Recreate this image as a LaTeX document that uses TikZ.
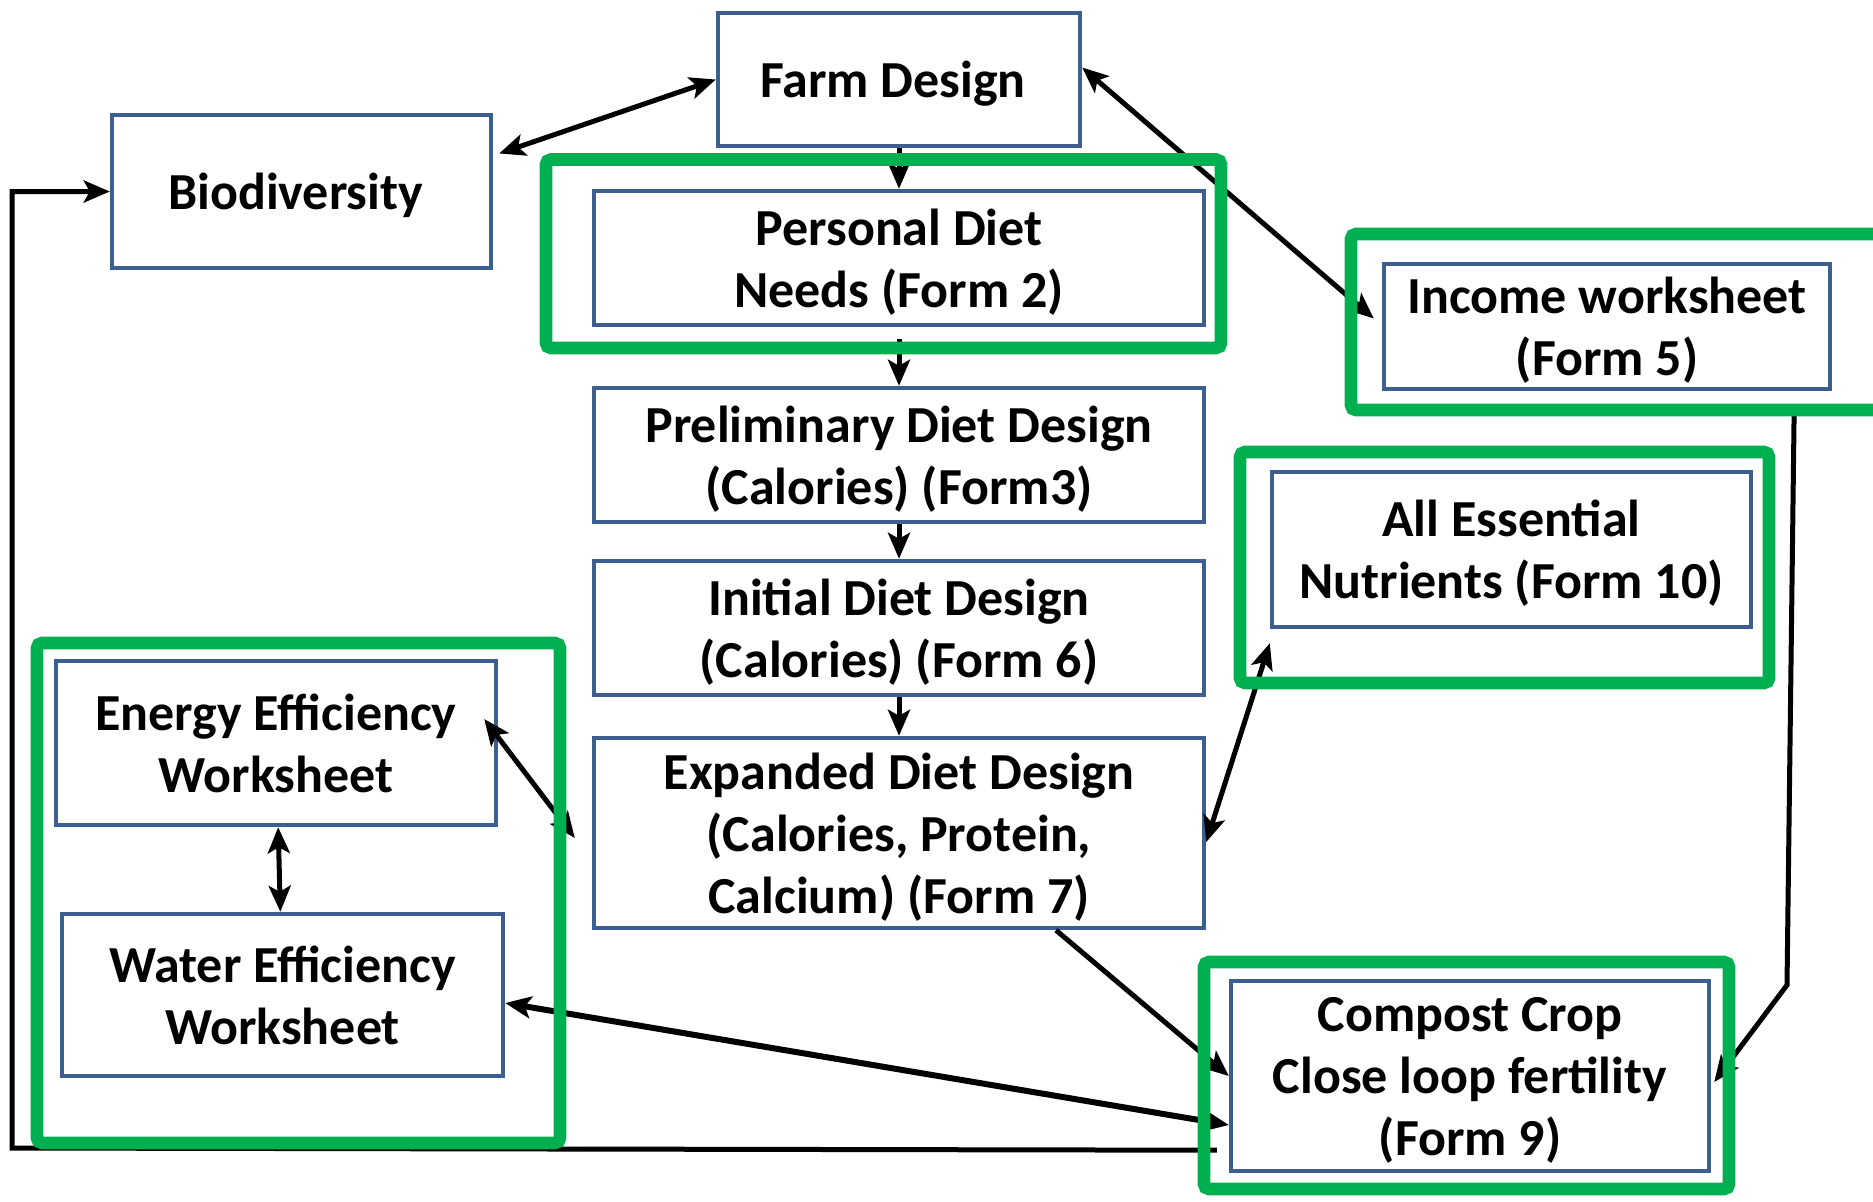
\documentclass[tikz,border=0pt]{standalone}
\usepackage{fontspec}
\setmainfont{Carlito}
\usetikzlibrary{arrows.meta}
\definecolor{boxblue}{HTML}{3C5F8F}
\definecolor{framegreen}{HTML}{00B050}

\begin{document}
\begin{tikzpicture}[x = 0.5pt, y = -0.5pt,
    every node/.style = { draw = boxblue, line width = 2.2pt, align = center, inner sep = 0pt,
                          font = \fontsize{26}{31}\selectfont\bfseries, text depth = 0pt },
    frame/.style = { draw = framegreen, line width = 6.3pt, rounded corners = 2.5pt },
    link/.style = { line width = 2.5pt },
    >={Stealth[length = 13pt, width = 11pt, inset = 3pt]}]
      \useasboundingbox (0,0) rectangle (1873,1201);
      \node (farm) at (899,79.5) [minimum width = 181pt, minimum height = 66.5pt] { Farm Design };
      \node (bio) at (301.5,191.5) [minimum width = 189.5pt, minimum height = 76.5pt] { Biodiversity };
      \node (personal) at (899,258) [minimum width = 305pt, minimum height = 67pt] { Personal Diet \\ Needs (Form 2) };
      \node (income) at (1607,326.5) [minimum width = 223pt, minimum height = 62.5pt] { Income worksheet \\ (Form 5) };
      \node (prelim) at (899,455) [minimum width = 305pt, minimum height = 67pt] { Preliminary Diet Design \\ (Calories) (Form3) };
      \node (alless) at (1511.5,549.5) [minimum width = 239.5pt, minimum height = 77.5pt] { All Essential \\ Nutrients (Form 10) };
      \node (initial) at (899,628) [minimum width = 305pt, minimum height = 67pt] { Initial Diet Design \\ (Calories) (Form 6) };
      \node (expanded) at (899,833) [minimum width = 305pt, minimum height = 95pt] { Expanded Diet Design \\ (Calories, Protein, \\ Calcium) (Form 7) };
      \node (energy) at (276,743) [minimum width = 220pt, minimum height = 82pt] { Energy Efficiency \\ Worksheet };
      \node (water) at (282.5,995) [minimum width = 220.5pt, minimum height = 81pt] { Water Efficiency \\ Worksheet };
      \node (compost) at (1470,1076) [minimum width = 239pt, minimum height = 95pt] { Compost Crop \\ Close loop fertility \\ (Form 9) };
      \coordinate (bend) at (1787,985);
      \coordinate (loopcorner) at (12,1148);

      \draw[link, <->] (farm.west) -- ([xshift = 3pt, yshift = 19pt]bio.east);
      \draw[link, <->] ([yshift = 6pt]farm.east) -- ([xshift = -4pt, yshift = 4pt]income.west);
      \draw[link, ->] (farm) -- (personal);
      \draw[link, ->, shorten <= 6pt] (personal) -- (prelim);
      \draw[link, ->] (prelim) -- (initial);
      \draw[link, ->] (initial) -- (expanded);
      \draw[link, <->] ([yshift = -7pt]alless.south west) -- ([yshift = -4.5pt]expanded.east);
      \draw[link, <->] ([xshift = -7pt, yshift = 12pt]energy.east) -- ([xshift = -8.5pt, yshift = -2.5pt]expanded.west);
      \draw[link, <->] (energy) -- (water);
      \draw[link, <->, line width = 3pt] ([yshift = -4pt]water.east) -- ([yshift = -24.5pt]compost.west);
      \draw[link, ->] ([xshift = 78.5pt]expanded.south) -- (compost.west);
      \draw[link, ->] ([xshift = -19pt, yshift = -7.5pt]income.south east) -- (bend) -- ([xshift = 1.5pt, yshift = -3pt]compost.east);
      \draw[link, ->] ([xshift = -6pt, yshift = 11.5pt]compost.south west) -- (loopcorner) |- (bio.west);

      \draw[frame] (546,159.5) rectangle (1221,348);
      \draw[frame] (1351,234) rectangle (1890,410);
      \draw[frame] (1240,452) rectangle (1769,683);
      \draw[frame] (37,643) rectangle (560,1143);
      \draw[frame] (1204,962) rectangle (1729,1189);
    \end{tikzpicture}
\end{document}
